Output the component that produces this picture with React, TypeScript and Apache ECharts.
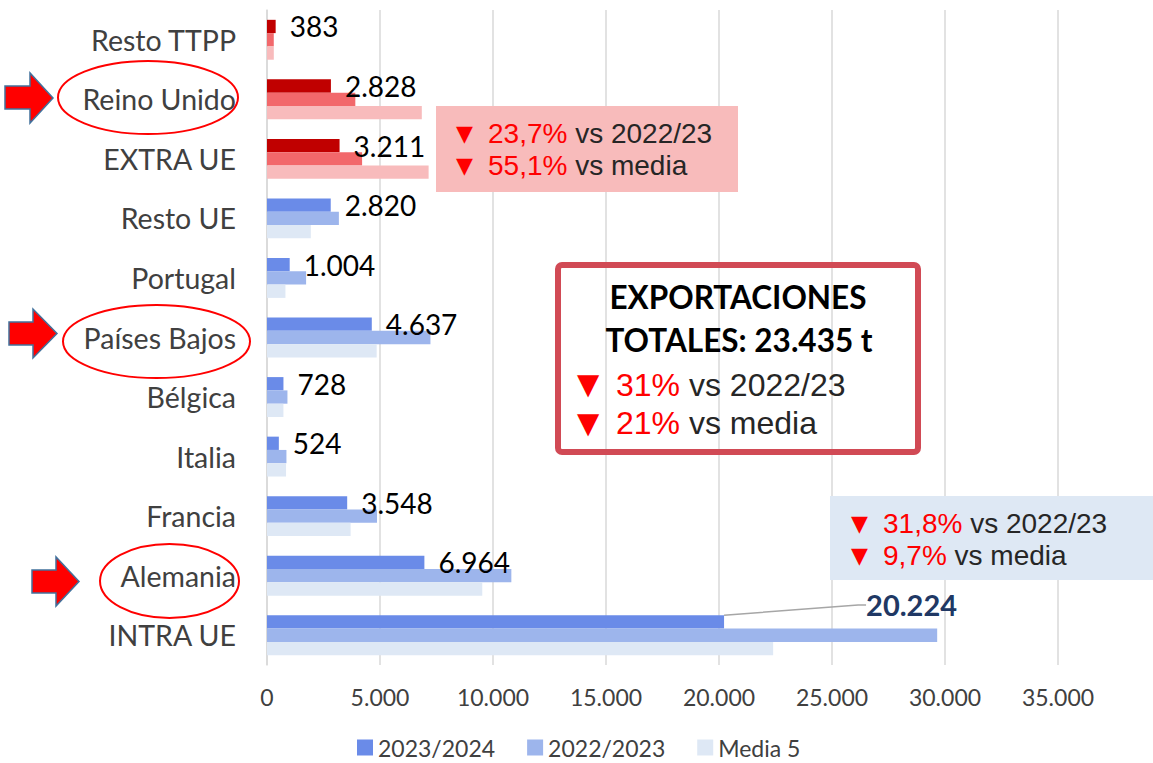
import React, { useEffect, useRef } from 'react';
import * as echarts from 'echarts';

// ---- Data (top-to-bottom order as displayed) ----
const categories = [
  'Resto TTPP', 'Reino Unido', 'EXTRA UE', 'Resto UE', 'Portugal',
  'Países Bajos', 'Bélgica', 'Italia', 'Francia', 'Alemania', 'INTRA UE',
];
const extraCategories = ['Resto TTPP', 'Reino Unido', 'EXTRA UE'];
const seriesNames = ['2023/2024', '2022/2023', 'Media 5'];
const values2324 = [383, 2828, 3211, 2820, 1004, 4637, 728, 524, 3548, 6964, 20224];
const values2223 = [300, 3908, 4208, 3181, 1730, 7232, 905, 860, 4867, 10812, 29654];
const valuesMedia = [301, 6850, 7151, 1939, 816, 4853, 727, 843, 3700, 9525, 22396];
const highlightCategory = 'INTRA UE';

const extraBox = ['23,7%', '55,1%'];
const intraBox = ['31,8%', '9,7%'];
const totalTitle = ['EXPORTACIONES', 'TOTALES: 23.435 t'];
const totalBox = ['31%', '21%'];
const compareLabels = ['vs 2022/23', 'vs media'];

const blueColors = ['#6A8BE8', '#9DB5EC', '#DEE8F5'];
const redColors = ['#C00000', '#F2686B', '#F8BBBC'];

const fmt = (v: number) => String(Math.round(v)).replace(/\B(?=(\d{3})+(?!\d))/g, '.');

const BOX_FONT = '"Liberation Sans", Arial, sans-serif';
const CAL_FONT = 'Lato, "Noto Sans", sans-serif';

function triText(x: number, y: number, size: number) {
  return {
    type: 'text', z: 20,
    style: { text: '▼', x, y, fill: '#FF0000', font: `${size}px "DejaVu Sans"`, verticalAlign: 'middle', align: 'left' },
  };
}
function lineText(x: number, y: number, pct: string, rest: string, size: number) {
  return {
    type: 'text', z: 20,
    style: {
      text: `{r|${pct}}{k| ${rest}}`, x, y, verticalAlign: 'middle', align: 'left',
      rich: {
        r: { fill: '#FF0000', fontSize: size, fontFamily: BOX_FONT },
        k: { fill: '#262626', fontSize: size, fontFamily: BOX_FONT },
      },
    },
  };
}
function arrow(x0: number, x1: number, x2: number, yTop: number, yBot: number, bTop: number, bBot: number) {
  const yc = (yTop + yBot) / 2;
  return {
    type: 'polygon', z: 20,
    shape: { points: [[x0, bTop], [x1, bTop], [x1, yTop], [x2, yc], [x1, yBot], [x1, bBot], [x0, bBot]] },
    style: { fill: '#FF0000', stroke: '#41719C', lineWidth: 1.5 },
  };
}
function ring(cx: number, cy: number, rx: number, ry: number) {
  return { type: 'ellipse', z: 20, shape: { cx, cy, rx, ry }, style: { fill: 'none', stroke: '#FF0000', lineWidth: 2 } };
}

export default function App() {
  const ref = useRef<HTMLDivElement>(null);
  useEffect(() => {
    if (!ref.current) return;
    const chart = echarts.init(ref.current, undefined, { renderer: 'svg' });
    const hi = categories.indexOf(highlightCategory);
    const mk = (vals: number[], k: number) =>
      vals.map((v, i) => {
        const item: any = {
          value: v,
          itemStyle: { color: extraCategories.includes(categories[i]) ? redColors[k] : blueColors[k] },
        };
        if (k === 0 && i === hi) {
          item.label = { fontWeight: 'bold', color: '#203864', fontSize: 29 };
          item.labelLine = { show: true, length2: 8, lineStyle: { color: '#A6A6A6', width: 1.5 } };
        }
        return item;
      });
    const allVals = [values2324, values2223, valuesMedia];
    const series: any[] = allVals.map((vals, k) => ({
      type: 'bar',
      name: seriesNames[k],
      data: mk(vals, k),
      itemStyle: { color: blueColors[k] },
      barGap: '0%',
      barCategoryGap: '33%',
      label: k === 0 ? {
        show: true, position: 'right', distance: 14, formatter: (p: any) => fmt(p.value),
        fontFamily: CAL_FONT, fontSize: 28, color: '#000',
      } : { show: false },
      labelLayout: k === 0 ? (p: any) => (p.dataIndex === hi ? { dx: 128, dy: -17 } : {}) : undefined,
    }));

    const graphic: any[] = [
      // arrows & rings
      arrow(5, 30, 53, 73, 123, 86, 109),
      arrow(9, 33, 57, 309, 358, 322, 345),
      arrow(32, 56, 79, 557, 606, 570, 593),
      ring(148, 97.5, 90, 36.5),
      ring(156.5, 341.5, 93.5, 36.5),
      ring(169.5, 581, 69.5, 37),
      // EXTRA UE box
      { type: 'rect', z: 15, shape: { x: 436, y: 106, width: 302, height: 86 }, style: { fill: '#F8BBBB' } },
      triText(456, 133, 22),
      lineText(488, 133, extraBox[0], compareLabels[0], 28),
      triText(456, 165, 22),
      lineText(488, 165, extraBox[1], compareLabels[1], 28),
      // INTRA UE box
      { type: 'rect', z: 15, shape: { x: 830, y: 496, width: 330, height: 84 }, style: { fill: '#DEE8F4' } },
      triText(851, 523, 22),
      lineText(883, 523, intraBox[0], compareLabels[0], 28),
      triText(851, 555, 22),
      lineText(883, 555, intraBox[1], compareLabels[1], 28),
      // Total box
      { type: 'rect', z: 15, shape: { x: 558, y: 265, width: 360, height: 187, r: 4 }, style: { fill: 'none', stroke: '#D14A55', lineWidth: 6 } },
      { type: 'text', z: 20, style: { text: totalTitle[0], x: 738, y: 297, align: 'center', verticalAlign: 'middle', fill: '#000', font: `bold 31.5px ${CAL_FONT}` } },
      { type: 'text', z: 20, style: { text: totalTitle[1], x: 739, y: 340, align: 'center', verticalAlign: 'middle', fill: '#000', font: `bold 31.5px ${CAL_FONT}` } },
      triText(577, 384, 29),
      lineText(616, 385, totalBox[0], compareLabels[0], 32),
      triText(577, 423, 29),
      lineText(616, 423, totalBox[1], compareLabels[1], 32),
    ];

    chart.setOption({
      animation: false,
      backgroundColor: '#fff',
      grid: { left: 267, right: 95, top: 10, bottom: 98, containLabel: false, outerBoundsMode: 'none' } as any,
      legend: {
        data: seriesNames, left: 357, top: 736, padding: 0, icon: 'rect', itemWidth: 16, itemHeight: 16, itemGap: 32,
        textStyle: { fontFamily: CAL_FONT, fontSize: 23, lineHeight: 20, color: '#404040' },
      },
      xAxis: {
        type: 'value', min: 0, max: 35000, interval: 5000,
        axisLine: { show: false }, axisTick: { show: false },
        splitLine: { lineStyle: { color: '#D9D9D9', width: 1.5 } },
        axisLabel: { formatter: (v: number) => fmt(v), fontFamily: CAL_FONT, fontSize: 23, color: '#404040', margin: 20 },
      },
      yAxis: {
        type: 'category', inverse: true, data: categories,
        axisLine: { show: true, lineStyle: { color: '#D9D9D9', width: 1.5 } },
        axisTick: { show: false },
        axisLabel: { fontFamily: CAL_FONT, fontSize: 28.5, color: '#404040', margin: 31 },
      },
      series,
      graphic,
    });
    return () => chart.dispose();
  }, []);
  return <div ref={ref} style={{ position: 'fixed', left: 0, top: 0, width: 1153, height: 763 }} />;
}
